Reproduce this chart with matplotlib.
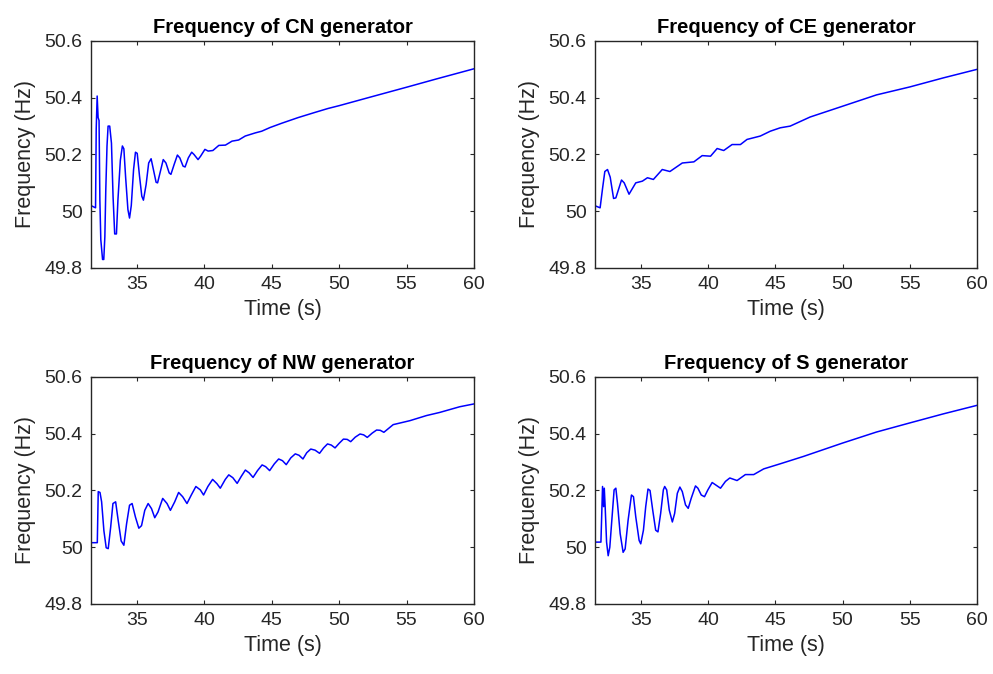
import matplotlib
matplotlib.use("Agg")
import matplotlib.pyplot as plt
import numpy as np

plt.rcParams['font.family'] = ['Liberation Sans', 'DejaVu Sans']

# values (time in s, frequency in Hz)
cn_t = [31.6, 31.94, 31.99, 32.06, 32.13, 32.2, 32.26, 32.33, 32.46, 32.55, 32.63, 32.7,
        32.79, 32.87, 32.99, 33.12, 33.24, 33.36, 33.49, 33.6, 33.78, 33.93, 34.04, 34.17,
        34.34, 34.46, 34.59, 34.76, 34.9, 35.03, 35.2, 35.37, 35.49, 35.69, 35.88, 36.06,
        36.23, 36.43, 36.54, 36.72, 36.96, 37.16, 37.4, 37.53, 37.77, 38.01, 38.19, 38.43,
        38.58, 38.82, 39.07, 39.24, 39.54, 39.73, 40.05, 40.29, 40.64, 41.08, 41.57, 42.06,
        42.55, 43.04, 43.78, 44.26, 44.88, 45.74, 46.96, 48.19, 49.17, 50.0, 52.3, 55.0,
        57.2, 60.0]
cn_f = [50.02, 50.012, 50.29, 50.406, 50.33, 50.32, 50.04, 49.9, 49.83, 49.83, 49.91, 50.076,
        50.23, 50.30, 50.30, 50.24, 50.05, 49.92, 49.92, 50.04, 50.18, 50.23, 50.22, 50.12,
        50.006, 49.976, 50.02, 50.147, 50.208, 50.204, 50.124, 50.053, 50.039, 50.094, 50.17, 50.185,
        50.147, 50.102, 50.1, 50.135, 50.182, 50.17, 50.135, 50.13, 50.165, 50.198, 50.188, 50.159,
        50.156, 50.188, 50.208, 50.2, 50.182, 50.194, 50.218, 50.212, 50.214, 50.232, 50.233, 50.247,
        50.251, 50.265, 50.276, 50.282, 50.295, 50.31, 50.33, 50.348, 50.362, 50.372, 50.402, 50.437,
        50.466, 50.502]

ce_t = [31.67, 31.98, 32.16, 32.33, 32.53, 32.73, 32.98, 33.15, 33.57, 33.77, 34.13, 34.63,
        35.12, 35.5, 35.94, 36.6, 37.17, 38.09, 38.95, 39.57, 40.19, 40.68, 41.17, 41.79,
        42.41, 42.9, 43.89, 44.63, 45.37, 46.11, 47.59, 50.0, 52.53, 55.0, 57.5, 60.0]
ce_f = [50.018, 50.012, 50.08, 50.14, 50.147, 50.12, 50.045, 50.047, 50.11, 50.10, 50.06, 50.10,
        50.106, 50.118, 50.112, 50.147, 50.14, 50.17, 50.174, 50.196, 50.194, 50.221, 50.214, 50.235,
        50.235, 50.253, 50.265, 50.282, 50.294, 50.30, 50.332, 50.37, 50.41, 50.438, 50.47, 50.50]

nw_t = [31.7, 32.07, 32.14, 32.27, 32.39, 32.56, 32.73, 32.88, 33.06, 33.23, 33.43, 33.62,
        33.84, 34.04, 34.24, 34.46, 34.65, 34.9, 35.15, 35.35, 35.59, 35.84, 36.09, 36.33,
        36.57, 36.92, 37.24, 37.49, 37.81, 38.1, 38.4, 38.72, 39.04, 39.38, 39.71, 39.95,
        40.27, 40.62, 40.94, 41.19, 41.56, 41.82, 42.12, 42.44, 42.75, 43.05, 43.33, 43.62,
        43.95, 44.29, 44.55, 44.85, 45.2, 45.52, 45.8, 46.08, 46.42, 46.75, 47.03, 47.32,
        47.6, 47.9, 48.22, 48.55, 48.85, 49.14, 49.42, 49.7, 50.0, 50.32, 50.6, 50.86,
        51.2, 51.55, 51.82, 52.09, 52.45, 52.78, 53.05, 53.32, 54.01, 55.25, 56.48, 57.46,
        58.94, 60.0]
nw_f = [50.016, 50.016, 50.196, 50.193, 50.16, 50.058, 49.998, 49.995, 50.07, 50.154, 50.16, 50.094,
        50.022, 50.007, 50.082, 50.148, 50.154, 50.106, 50.067, 50.076, 50.13, 50.154, 50.136, 50.104,
        50.124, 50.172, 50.154, 50.13, 50.16, 50.193, 50.178, 50.154, 50.184, 50.214, 50.202, 50.184,
        50.214, 50.239, 50.224, 50.208, 50.239, 50.255, 50.245, 50.225, 50.25, 50.272, 50.262, 50.246,
        50.27, 50.29, 50.284, 50.27, 50.294, 50.311, 50.305, 50.291, 50.315, 50.329, 50.324, 50.311,
        50.333, 50.346, 50.342, 50.331, 50.35, 50.364, 50.36, 50.35, 50.366, 50.381, 50.38, 50.372,
        50.388, 50.399, 50.396, 50.387, 50.402, 50.413, 50.412, 50.405, 50.432, 50.446, 50.464, 50.475,
        50.495, 50.505]

s_t = [31.67, 32.04, 32.16, 32.24, 32.29, 32.36, 32.46, 32.58, 32.7, 32.85, 33.02, 33.15,
       33.27, 33.47, 33.69, 33.84, 34.06, 34.31, 34.46, 34.63, 34.88, 35.0, 35.2, 35.37,
       35.54, 35.69, 35.89, 36.11, 36.28, 36.48, 36.68, 36.78, 36.93, 37.12, 37.35, 37.52,
       37.72, 37.91, 38.09, 38.33, 38.53, 38.75, 39.07, 39.25, 39.5, 39.74, 39.99, 40.31,
       40.56, 40.93, 41.3, 41.62, 42.16, 42.78, 43.4, 44.14, 45.37, 47.1, 50.0, 52.53,
       55.0, 57.5, 60.0]
s_f = [50.018, 50.018, 50.214, 50.143, 50.208, 50.137, 50.018, 49.97, 50.0, 50.095, 50.202, 50.208,
       50.155, 50.048, 49.982, 49.994, 50.095, 50.184, 50.178, 50.107, 50.024, 50.012, 50.06, 50.143,
       50.205, 50.2, 50.131, 50.06, 50.054, 50.119, 50.202, 50.214, 50.202, 50.131, 50.089, 50.119,
       50.19, 50.212, 50.196, 50.149, 50.137, 50.172, 50.216, 50.208, 50.184, 50.178, 50.202, 50.228,
       50.22, 50.208, 50.232, 50.244, 50.235, 50.256, 50.256, 50.276, 50.294, 50.32, 50.367, 50.406,
       50.438, 50.47, 50.50]

gens = [("CN", cn_t, cn_f), ("CE", ce_t, ce_f), ("NW", nw_t, nw_f), ("S", s_t, s_f)]

# axes rectangles in figure fractions (left, bottom, width, height)
rects = [(0.0916, 0.6024, 0.3857, 0.3368), (0.5992, 0.6024, 0.3847, 0.3368),
         (0.0916, 0.1039, 0.3857, 0.3368), (0.5992, 0.1039, 0.3847, 0.3368)]

axcol = '#262626'

fig = plt.figure(figsize=(9.93, 6.74), dpi=100)

for (name, t, f), r in zip(gens, rects):
    ax = fig.add_axes(r)
    ax.plot(np.array(t), np.array(f), color='#0000ff', lw=1.1)
    ax.set_xlim(31.6, 60)
    ax.set_ylim(49.8, 50.6)
    ax.set_xticks([35, 40, 45, 50, 55, 60])
    ax.set_yticks([49.8, 50.0, 50.2, 50.4, 50.6])
    ax.set_yticklabels(['49.8', '50', '50.2', '50.4', '50.6'])
    ax.tick_params(direction='in', length=3, width=0.8, top=True, right=True,
                   labelsize=14, colors=axcol, pad=6)
    for sp in ax.spines.values():
        sp.set_color(axcol)
        sp.set_linewidth(1.0)
    ax.set_title("Frequency of %s generator" % name, fontsize=14.5,
                 fontweight='bold', color='black', pad=6)
    ax.set_xlabel("Time (s)", fontsize=15.5, color=axcol, labelpad=4)
    ax.set_ylabel("Frequency (Hz)", fontsize=15.5, color=axcol, labelpad=6)

fig.savefig("out.png", dpi=100, facecolor='white')
